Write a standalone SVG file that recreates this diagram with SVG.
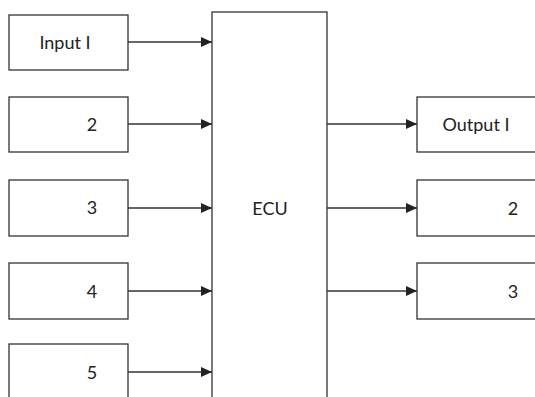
<svg xmlns="http://www.w3.org/2000/svg" width="535" height="397" viewBox="0 0 535 397">
<style>
.box{fill:#fff;stroke:#333;stroke-width:1.3}
.ln{stroke:#333;stroke-width:1.3;fill:none;marker-end:url(#ah)}
text{font-family:Lato,"Open Sans","Liberation Sans",sans-serif;font-size:18px;fill:#222;text-anchor:middle}
</style>
<defs>
<marker id="ah" viewBox="0 0 11 10" refX="11" refY="5" markerWidth="11" markerHeight="10" markerUnits="userSpaceOnUse" orient="auto">
<path d="M0,0 L11,5 L0,10 Z" fill="#222"/>
</marker>
</defs>
<g id="in1"><rect class="box" x="9" y="15" width="119" height="55"/><text x="65" y="49">Input I</text></g>
<g id="in2"><rect class="box" x="9" y="97" width="119" height="55"/><text x="92" y="131">2</text></g>
<g id="in3"><rect class="box" x="9" y="180" width="119" height="56"/><text x="92" y="214">3</text></g>
<g id="in4"><rect class="box" x="9" y="263" width="119" height="56"/><text x="92" y="298">4</text></g>
<g id="in5"><rect class="box" x="9" y="344" width="119" height="60"/><text x="92" y="379">5</text></g>
<g id="ecu"><rect class="box" x="212" y="12" width="115" height="392"/><text x="270" y="215">ECU</text></g>
<g id="out1"><rect class="box" x="417" y="97" width="125" height="55"/><text x="476" y="131">Output I</text></g>
<g id="out2"><rect class="box" x="417" y="180" width="125" height="56"/><text x="513" y="215">2</text></g>
<g id="out3"><rect class="box" x="417" y="263" width="125" height="56"/><text x="513" y="298">3</text></g>
<g id="connectors">
<line class="ln" x1="128" y1="42" x2="212" y2="42"/>
<line class="ln" x1="128" y1="124" x2="212" y2="124"/>
<line class="ln" x1="128" y1="208" x2="212" y2="208"/>
<line class="ln" x1="128" y1="291" x2="212" y2="291"/>
<line class="ln" x1="128" y1="372" x2="212" y2="372"/>
<line class="ln" x1="327" y1="124" x2="417" y2="124"/>
<line class="ln" x1="327" y1="208" x2="417" y2="208"/>
<line class="ln" x1="327" y1="291" x2="417" y2="291"/>
</g>
</svg>
